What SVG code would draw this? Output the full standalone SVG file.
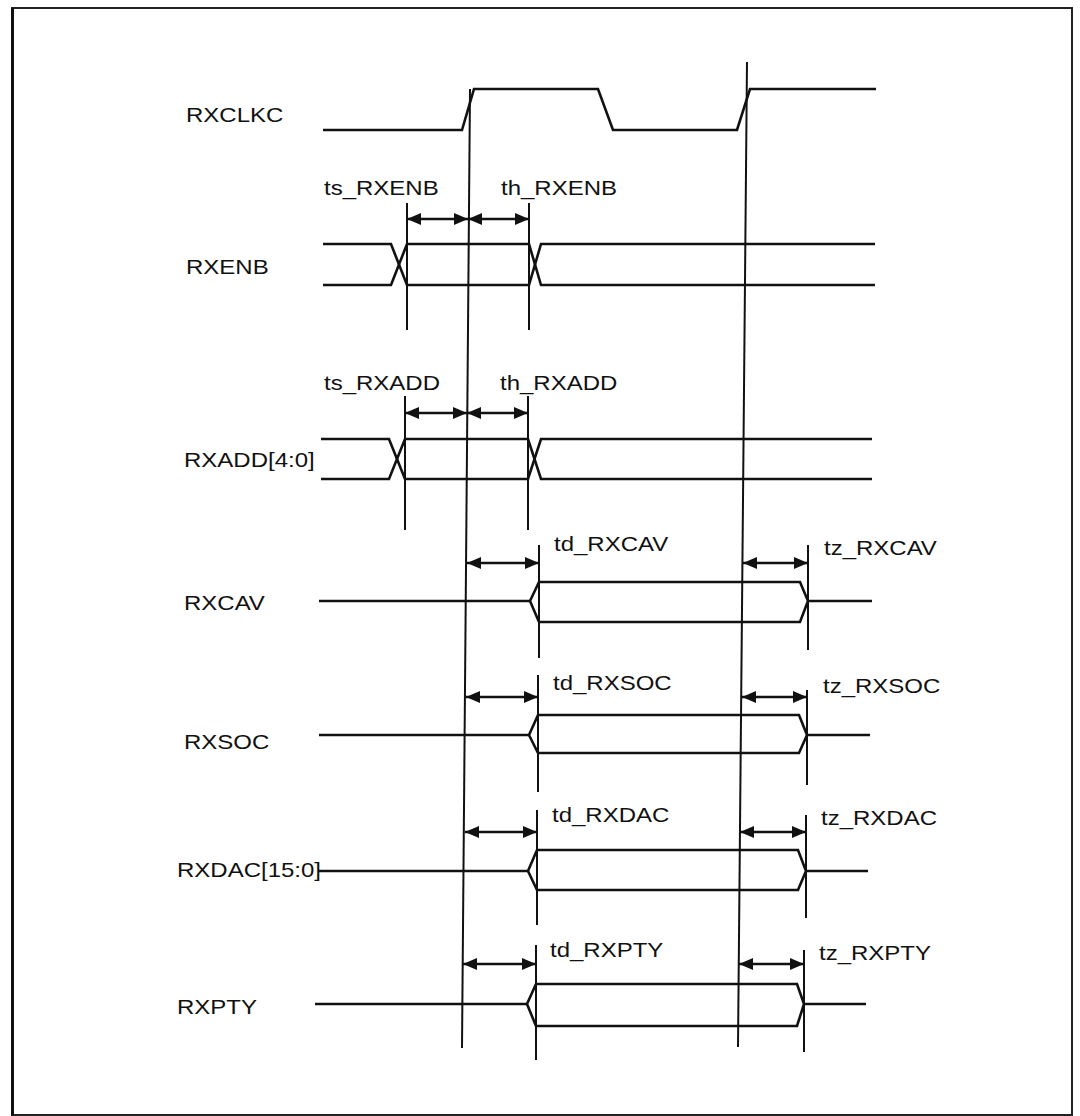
<svg xmlns="http://www.w3.org/2000/svg" width="1080" height="1116" viewBox="0 0 1080 1116">
<style>
text{font-family:"Liberation Sans",Arial,sans-serif;font-size:20px;fill:#111}
.sig{fill:none;stroke:#111;stroke-width:2.6;stroke-linejoin:miter}
.v{stroke:#111;stroke-width:2;fill:none}
.arr{stroke:#111;stroke-width:2.6;fill:none;marker-start:url(#ah);marker-end:url(#ah)}
</style>
<defs>
<marker id="ah" viewBox="0 0 14 12" refX="14" refY="6" markerWidth="14" markerHeight="12" markerUnits="userSpaceOnUse" orient="auto-start-reverse">
<path d="M0,0 L14,6 L0,12 z" fill="#111"/>
</marker>
</defs>
<rect x="0" y="0" width="1080" height="1116" fill="#fff"/>
<rect x="12" y="8" width="1060" height="1107" fill="none" stroke="#222" stroke-width="2"/>
<line x1="12.5" y1="8" x2="12.5" y2="1115" stroke="#111" stroke-width="3"/>

<g id="connectors">
<line class="v" x1="470" y1="89" x2="462" y2="1048"/>
<line class="v" x1="747" y1="62" x2="738" y2="1047"/>
<line class="v" x1="407" y1="203" x2="407" y2="330"/>
<line class="v" x1="529" y1="203" x2="529" y2="330"/>
<line class="arr" x1="407" y1="219" x2="468" y2="219"/>
<line class="arr" x1="468" y1="219" x2="529" y2="219"/>
<line class="v" x1="405" y1="396" x2="405" y2="530"/>
<line class="v" x1="528" y1="396" x2="528" y2="530"/>
<line class="arr" x1="405" y1="413" x2="467" y2="413"/>
<line class="arr" x1="467" y1="413" x2="528" y2="413"/>
<line class="v" x1="539" y1="545" x2="539" y2="658"/>
<line class="v" x1="808" y1="545" x2="808" y2="650"/>
<line class="arr" x1="467" y1="563" x2="539" y2="563"/>
<line class="arr" x1="743" y1="563" x2="808" y2="563"/>
<line class="v" x1="538" y1="675" x2="538" y2="792"/>
<line class="v" x1="807" y1="690" x2="807" y2="785"/>
<line class="arr" x1="466" y1="697" x2="538" y2="697"/>
<line class="arr" x1="742" y1="697" x2="807" y2="697"/>
<line class="v" x1="537" y1="810" x2="537" y2="925"/>
<line class="v" x1="806" y1="815" x2="806" y2="918"/>
<line class="arr" x1="465" y1="832" x2="537" y2="832"/>
<line class="arr" x1="740" y1="832" x2="806" y2="832"/>
<line class="v" x1="536" y1="945" x2="536" y2="1060"/>
<line class="v" x1="804" y1="950" x2="804" y2="1052"/>
<line class="arr" x1="463" y1="964" x2="536" y2="964"/>
<line class="arr" x1="739" y1="964" x2="804" y2="964"/>
</g>

<g id="RXCLKC">
<text transform="translate(186,122) scale(1.2,1)">RXCLKC</text>
<polyline class="sig" points="323,130 462,130 474,89 598,89 613,130 737,130 750,89 876,89"/>
</g>

<g id="RXENB">
<text transform="translate(324,195) scale(1.2,1)">ts_RXENB</text>
<text transform="translate(501,195) scale(1.2,1)">th_RXENB</text>
<text transform="translate(186,274) scale(1.2,1)">RXENB</text>
<polyline class="sig" points="323,244 391,244 407,285 529,285 541,244 875,244"/>
<polyline class="sig" points="323,285 391,285 407,244 529,244 541,285 875,285"/>
</g>

<g id="RXADD">
<text transform="translate(324,390) scale(1.2,1)">ts_RXADD</text>
<text transform="translate(500,390) scale(1.2,1)">th_RXADD</text>
<text transform="translate(184,467) scale(1.2,1)">RXADD[4:0]</text>
<polyline class="sig" points="321,439 389,439 405,479 528,479 541,439 872,439"/>
<polyline class="sig" points="321,479 389,479 405,439 528,439 541,479 872,479"/>
</g>

<g id="RXCAV">
<text transform="translate(554,551) scale(1.2,1)">td_RXCAV</text>
<text transform="translate(824,555) scale(1.2,1)">tz_RXCAV</text>
<text transform="translate(184,610) scale(1.2,1)">RXCAV</text>
<polyline class="sig" points="319,601 530,601"/>
<polygon class="sig" points="530,601 539,582 800,582 808,601 800,622 539,622"/>
<polyline class="sig" points="808,601 872,601"/>
</g>

<g id="RXSOC">
<text transform="translate(553,690) scale(1.2,1)">td_RXSOC</text>
<text transform="translate(823,693) scale(1.2,1)">tz_RXSOC</text>
<text transform="translate(184,749) scale(1.2,1)">RXSOC</text>
<polyline class="sig" points="319,735 529,735"/>
<polygon class="sig" points="529,735 538,715 799,715 807,735 799,753 538,753"/>
<polyline class="sig" points="807,735 870,735"/>
</g>

<g id="RXDAC">
<text transform="translate(552,822) scale(1.2,1)">td_RXDAC</text>
<text transform="translate(821,825) scale(1.2,1)">tz_RXDAC</text>
<text transform="translate(177,877) scale(1.2,1)">RXDAC[15:0]</text>
<polyline class="sig" points="318,871 528,871"/>
<polygon class="sig" points="528,871 537,850 798,850 806,871 798,890 537,890"/>
<polyline class="sig" points="806,871 868,871"/>
</g>

<g id="RXPTY">
<text transform="translate(550,957) scale(1.2,1)">td_RXPTY</text>
<text transform="translate(819,960) scale(1.2,1)">tz_RXPTY</text>
<text transform="translate(177,1014) scale(1.2,1)">RXPTY</text>
<polyline class="sig" points="315,1004 527,1004"/>
<polygon class="sig" points="527,1004 536,984 797,984 804,1004 797,1026 536,1026"/>
<polyline class="sig" points="804,1004 866,1004"/>
</g>
</svg>
